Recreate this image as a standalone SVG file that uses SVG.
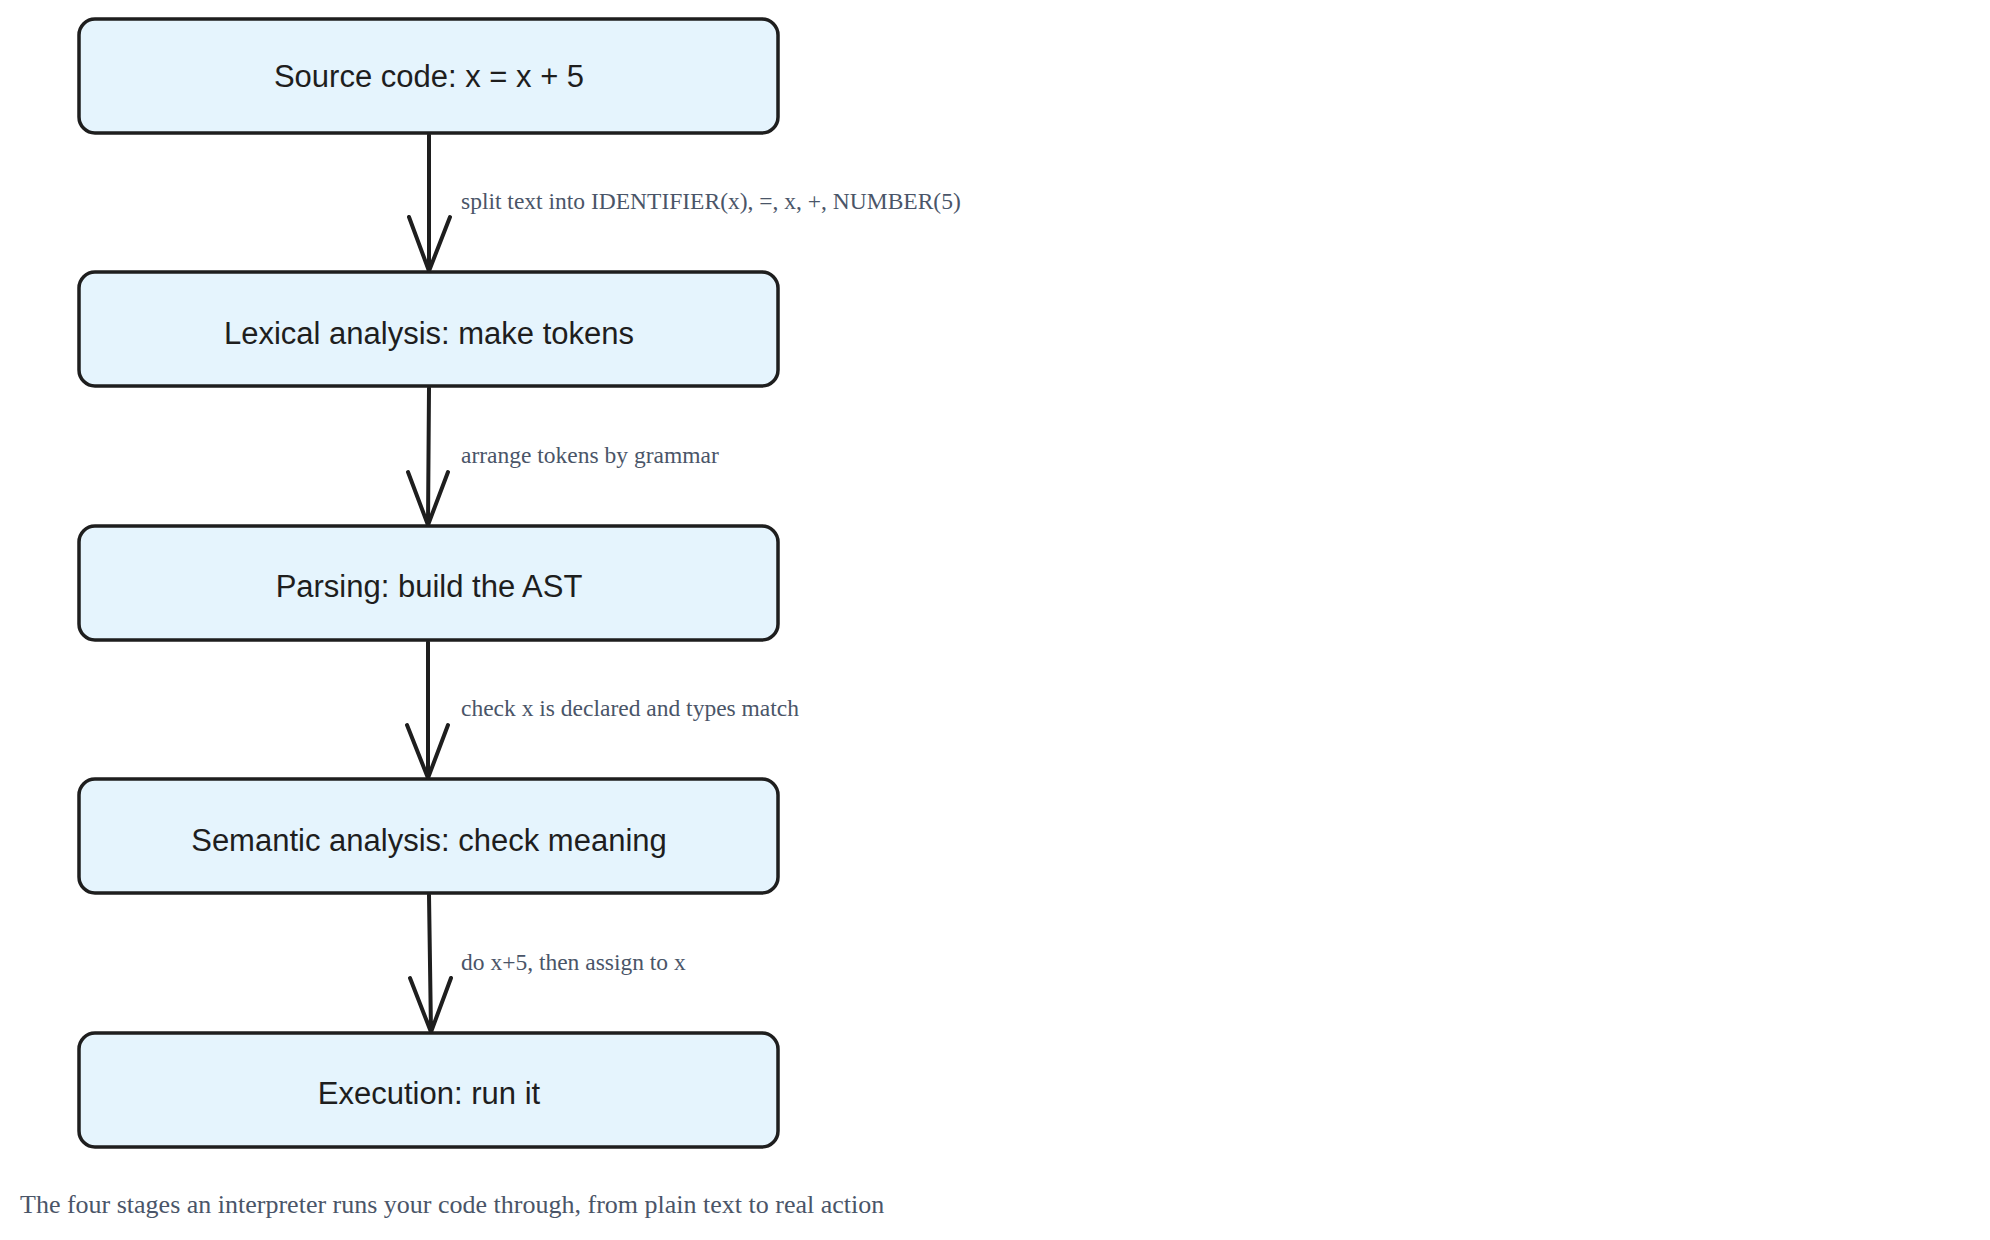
<svg xmlns="http://www.w3.org/2000/svg" width="1990" height="1240" viewBox="0 0 1990 1240">
<style>
.box{fill:#e5f4fd;stroke:#1e1e1e;stroke-width:3.5}
.t{font-family:"Liberation Sans",Arial,sans-serif;font-size:31px;fill:#1e1e1e;text-anchor:middle}
.l{font-family:"Liberation Serif","Times New Roman",serif;font-size:23.5px;fill:#4a5568}
.c{stroke:#1e1e1e;stroke-width:4;fill:none;stroke-linecap:round;stroke-linejoin:round}
</style>
<rect width="1990" height="1240" fill="#fff"/>
<g id="n1"><rect class="box" x="79" y="19" width="699" height="114" rx="16"/><text class="t" x="429" y="87">Source code: x = x + 5</text></g>
<g id="n2"><rect class="box" x="79" y="272" width="699" height="114" rx="16"/><text class="t" x="429" y="344">Lexical analysis: make tokens</text></g>
<g id="n3"><rect class="box" x="79" y="526" width="699" height="114" rx="16"/><text class="t" x="429" y="597">Parsing: build the AST</text></g>
<g id="n4"><rect class="box" x="79" y="779" width="699" height="114" rx="16"/><text class="t" x="429" y="851">Semantic analysis: check meaning</text></g>
<g id="n5"><rect class="box" x="79" y="1033" width="699" height="114" rx="16"/><text class="t" x="429" y="1104">Execution: run it</text></g>
<g id="connectors">
<path class="c" d="M429 135 L429 271 M409 217 L429 271 L450 217"/>
<path class="c" d="M429 388 L428 525 M408 472 L428 525 L448 472"/>
<path class="c" d="M428 642 L428 778 M407 725 L428 778 L448 725"/>
<path class="c" d="M429 895 L431 1032 M410 978 L431 1032 L451 978"/>
</g>
<g id="labels">
<text class="l" x="461" y="209">split text into IDENTIFIER(x), =, x, +, NUMBER(5)</text>
<text class="l" x="461" y="463">arrange tokens by grammar</text>
<text class="l" x="461" y="716">check x is declared and types match</text>
<text class="l" x="461" y="970">do x+5, then assign to x</text>
</g>
<text class="l" x="20" y="1213" style="font-size:26px">The four stages an interpreter runs your code through, from plain text to real action</text>
</svg>
